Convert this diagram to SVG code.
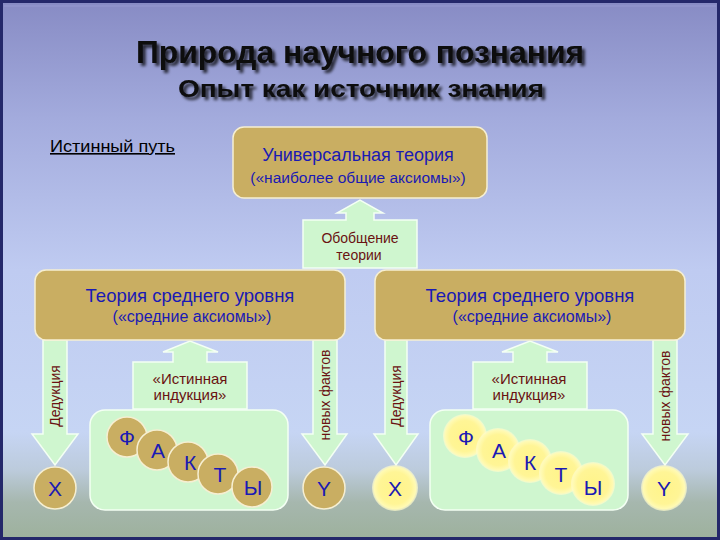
<svg xmlns="http://www.w3.org/2000/svg" width="720" height="540" viewBox="0 0 720 540">
<defs>
<linearGradient id="bg" x1="0" y1="0" x2="0" y2="1">
<stop offset="0" stop-color="#878bc4"/>
<stop offset="0.22" stop-color="#a3abdd"/>
<stop offset="0.5" stop-color="#bfcbf1"/>
<stop offset="0.8" stop-color="#c6d5f4"/>
<stop offset="0.87" stop-color="#bccbdc"/>
<stop offset="0.93" stop-color="#a6b7ae"/>
<stop offset="1" stop-color="#9db19c"/>
</linearGradient>
<radialGradient id="yel" cx="0.5" cy="0.5" r="0.5">
<stop offset="0" stop-color="#fff48a"/>
<stop offset="0.7" stop-color="#fff596"/>
<stop offset="0.9" stop-color="#fffab4"/>
<stop offset="1" stop-color="#fffcd0" stop-opacity="0.6"/>
</radialGradient>
<filter id="sh" x="-10%" y="-30%" width="120%" height="170%">
<feGaussianBlur in="SourceAlpha" stdDeviation="1.6"/>
<feOffset dx="3" dy="3" result="b"/>
<feFlood flood-color="#000" flood-opacity="0.75"/>
<feComposite in2="b" operator="in"/>
<feMerge><feMergeNode/><feMergeNode in="SourceGraphic"/></feMerge>
</filter>
</defs>
<style>
.kh{fill:#c9ae62;stroke:#f6efd2;stroke-width:1.5}
.gr{fill:#cff6cf;stroke:#f4fff4;stroke-width:1.5}
.yc{fill:url(#yel)}
.t{font-family:"Liberation Sans",Arial,sans-serif;text-anchor:middle}
.blue{fill:#1a1ab4}
.red{fill:#6a1212}
.lt{font-size:21px}
.h1{font-family:"Liberation Sans Narrow","Liberation Sans",Arial,sans-serif;font-weight:bold;fill:#0a0a0a;text-anchor:middle}
</style>
<rect x="0" y="0" width="720" height="540" fill="url(#bg)"/>
<rect x="1.5" y="1.5" width="717" height="537" fill="none" stroke="#24286a" stroke-width="3"/>
<line x1="4" y1="6" x2="716" y2="6" stroke="#a0a4d8" stroke-width="1" opacity="0.6"/>

<g id="title">
<text class="h1" x="360" y="63" font-size="32" textLength="448" lengthAdjust="spacingAndGlyphs" filter="url(#sh)">Природа научного познания</text>
<text class="h1" x="361" y="97" font-size="24" textLength="366" lengthAdjust="spacingAndGlyphs" filter="url(#sh)">Опыт как источник знания</text>
</g>

<g id="true-path">
<text x="50" y="152" font-family="Liberation Sans Narrow,Liberation Sans,Arial,sans-serif" font-size="16" fill="#000" text-decoration="underline" textLength="125" lengthAdjust="spacingAndGlyphs">Истинный путь</text>
</g>

<g id="connectors">
<path class="gr" d="M303,268 L303,220 L346,220 L346,213 L337,213 L360,200 L383,213 L374,213 L374,220 L417,220 L417,268 Z"/>
<text class="t red" x="360" y="243" font-size="14">Обобщение</text>
<text class="t red" x="359" y="260" font-size="14">теории</text>

<path class="gr" d="M43,340 L67,340 L67,434 L78,434 L55,465 L32,434 L43,434 Z"/>
<text class="t red" font-size="14" transform="translate(60,396) rotate(-90)">Дедукция</text>
<path class="gr" d="M313,340 L337,340 L337,434 L347,434 L325,465 L302,434 L313,434 Z"/>
<text class="t red" font-size="14" transform="translate(330,395) rotate(-90)">новых фактов</text>
<path class="gr" d="M133,409 L133,362 L173,362 L173,352 L163,352 L190,341 L218,352 L207,352 L207,362 L247,362 L247,409 Z"/>
<text class="t red" x="190" y="384" font-size="15">«Истинная</text>
<text class="t red" x="190" y="400" font-size="15">индукция»</text>

<path class="gr" d="M385,340 L407,340 L407,434 L418,434 L396,465 L374,434 L385,434 Z"/>
<text class="t red" font-size="14" transform="translate(401,396) rotate(-90)">Дедукция</text>
<path class="gr" d="M653,340 L677,340 L677,434 L688,434 L665,465 L642,434 L653,434 Z"/>
<text class="t red" font-size="14" transform="translate(670,396) rotate(-90)">новых фактов</text>
<path class="gr" d="M473,409 L473,362 L513,362 L513,352 L502,352 L530,341 L558,352 L547,352 L547,362 L587,362 L587,409 Z"/>
<text class="t red" x="529" y="384" font-size="15">«Истинная</text>
<text class="t red" x="529" y="400" font-size="15">индукция»</text>
</g>

<g id="universal">
<rect class="kh" x="233" y="127" width="254" height="71" rx="11"/>
<text class="t blue" x="358" y="161" font-size="18">Универсальная теория</text>
<text class="t blue" x="358" y="183" font-size="15.5">(«наиболее общие аксиомы»)</text>
</g>

<g id="middle-left">
<rect class="kh" x="35" y="270" width="310" height="70" rx="11"/>
<text class="t blue" x="190" y="302" font-size="18.5">Теория среднего уровня</text>
<text class="t blue" x="192" y="322" font-size="16">(«средние аксиомы»)</text>
</g>

<g id="middle-right">
<rect class="kh" x="375" y="270" width="310" height="70" rx="11"/>
<text class="t blue" x="530" y="302" font-size="18.5">Теория среднего уровня</text>
<text class="t blue" x="532" y="322" font-size="16">(«средние аксиомы»)</text>
</g>

<g id="facts-left">
<rect class="gr" x="90" y="410" width="198" height="100" rx="15"/>
<circle class="kh" cx="127" cy="437" r="20"/>
<text class="t blue lt" x="127" y="445">Ф</text>
<circle class="kh" cx="157" cy="450" r="20"/>
<text class="t blue lt" x="158" y="458">А</text>
<circle class="kh" cx="188" cy="462" r="20"/>
<text class="t blue lt" x="190" y="470">К</text>
<circle class="kh" cx="218" cy="474" r="20"/>
<text class="t blue lt" x="220" y="482">Т</text>
<circle class="kh" cx="252" cy="487" r="20"/>
<text class="t blue lt" x="253" y="495">Ы</text>
</g>

<g id="x-left">
<circle class="kh" cx="55" cy="488" r="21"/>
<text class="t blue lt" x="55" y="496">X</text>
</g>
<g id="y-left">
<circle class="kh" cx="324" cy="488" r="21"/>
<text class="t blue lt" x="324" y="496">Y</text>
</g>

<g id="facts-right">
<rect class="gr" x="430" y="410" width="198" height="100" rx="15"/>
<circle class="yc" cx="465" cy="436" r="22"/>
<text class="t blue lt" x="466" y="445">Ф</text>
<circle class="yc" cx="498" cy="450" r="22"/>
<text class="t blue lt" x="499" y="458">А</text>
<circle class="yc" cx="530" cy="461" r="22"/>
<text class="t blue lt" x="530" y="470">К</text>
<circle class="yc" cx="561" cy="473" r="22"/>
<text class="t blue lt" x="561" y="482">Т</text>
<circle class="yc" cx="593" cy="484" r="22"/>
<text class="t blue lt" x="593" y="495">Ы</text>
</g>

<g id="x-right">
<circle class="yc" cx="395" cy="488" r="23"/>
<text class="t blue lt" x="395" y="496">X</text>
</g>
<g id="y-right">
<circle class="yc" cx="664" cy="488" r="23"/>
<text class="t blue lt" x="664" y="496">Y</text>
</g>
</svg>
